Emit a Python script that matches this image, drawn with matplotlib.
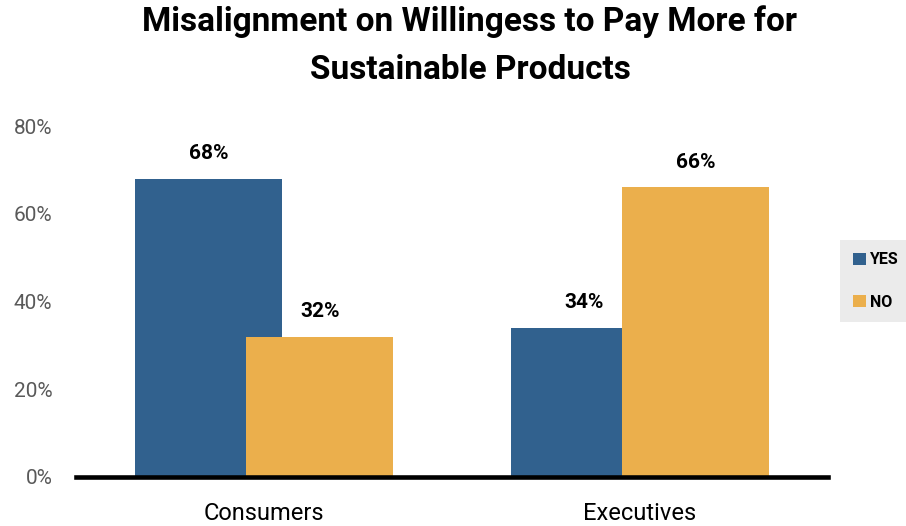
import matplotlib
matplotlib.use("Agg")
import matplotlib.pyplot as plt
import numpy as np

# data
groups = ["Consumers", "Executives"]
series = ["YES", "NO"]
yes_vals = [68, 34]
no_vals = [32, 66]
yticks = [0, 20, 40, 60, 80]
colors = {"YES": "#31618E", "NO": "#EBAF4C"}

plt.rcParams["font.family"] = ["Roboto", "DejaVu Sans"]

fig = plt.figure(figsize=(9.06, 5.26), dpi=100)
ax = fig.add_axes([76 / 906, 49 / 526, 752 / 906, 351 / 526])

x = np.arange(len(groups))
width = 0.39
off = 0.148
b1 = ax.bar(x - off, yes_vals, width, color=colors["YES"], label="YES", zorder=2)
b2 = ax.bar(x + off, no_vals, width, color=colors["NO"], label="NO", zorder=3)

for bars, vals in [(b1, yes_vals), (b2, no_vals)]:
    for rect, v in zip(bars, vals):
        ax.annotate(f"{v}%", (rect.get_x() + rect.get_width() / 2, v),
                    xytext=(0, 18), textcoords="offset points",
                    ha="center", va="center", fontsize=15, fontweight="bold",
                    color="black")

ax.set_xlim(-0.5, 1.5)
ax.set_ylim(0, 80)
ax.set_yticks(yticks)
ax.set_yticklabels([f"{t}%" for t in yticks], fontsize=15, color="#595959")
ax.set_xticks(x)
ax.set_xticklabels(groups, fontsize=17, color="black")
ax.tick_params(axis="both", length=0)
ax.tick_params(axis="y", pad=17)
ax.tick_params(axis="x", pad=18)
for s in ["top", "right", "left"]:
    ax.spines[s].set_visible(False)
ax.spines["bottom"].set_linewidth(3.3)
ax.spines["bottom"].set_color("black")
ax.spines["bottom"].set_zorder(5)

fig.text(470 / 906, 1 - 22 / 526, "Misalignment on Willingess to Pay More for",
         ha="center", va="center", fontsize=24, fontweight="bold")
fig.text(470 / 906, 1 - 70 / 526, "Sustainable Products",
         ha="center", va="center", fontsize=24, fontweight="bold")

leg = fig.legend(loc="center left", bbox_to_anchor=(840 / 906, 1 - 281 / 526),
                 frameon=True, fancybox=False, fontsize=11.5,
                 handlelength=0.8, handleheight=0.8, handletextpad=0.25,
                 labelspacing=1.7, borderpad=0.8, borderaxespad=0)
leg.get_frame().set_facecolor("#E6E6E6")
leg.get_frame().set_edgecolor("none")
for t in leg.get_texts():
    t.set_fontweight("bold")

fig.savefig("out.png", dpi=100)
